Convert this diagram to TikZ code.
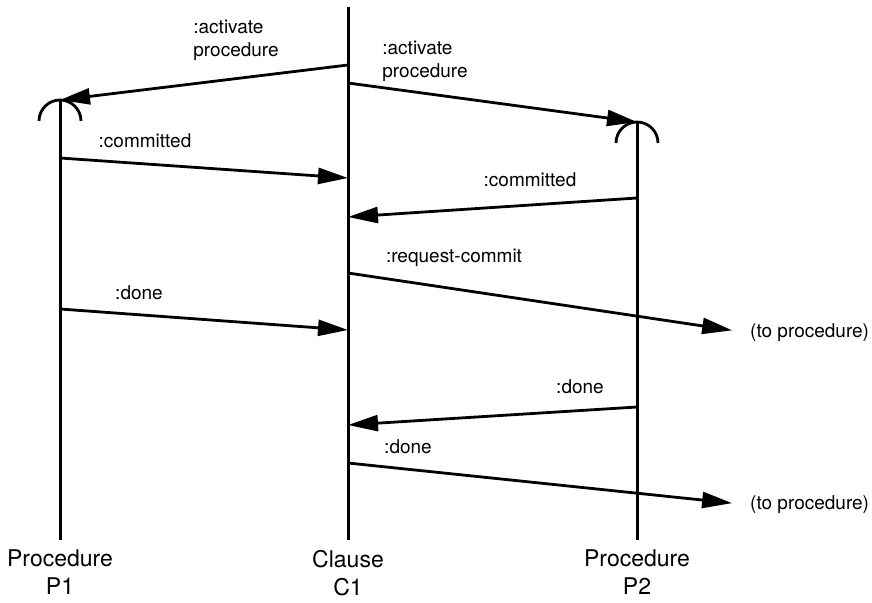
\documentclass[tikz,border=0pt]{standalone}
\usepackage{fontspec}
\setmainfont{TeX Gyre Heros}
\usetikzlibrary{arrows.meta,positioning}

\begin{document}
\begin{tikzpicture}[x=1pt,y=-1pt,
        life/.style={line width=3pt},
        msg/.style={line width=2.8pt,-{Triangle[length=30pt,width=16pt]}},
        lbl/.style={font=\fontsize{19}{23}\selectfont,align=left,inner sep=0pt},
        who/.style={font=\fontsize{23}{28}\selectfont,align=center,inner sep=0pt}]
        \useasboundingbox (0,0) rectangle (872,602);
        % lifelines
        \coordinate (p1top) at (60,100);
        \coordinate (p1bot) at (60,540);
        \coordinate (c1top) at (348,7);
        \coordinate (c1bot) at (348,540);
        \coordinate (p2top) at (637,122);
        \coordinate (p2bot) at (637,540);
        \draw[life] (p1top) -- (p1bot);
        \draw[life] (c1top) -- (c1bot);
        \draw[life] (p2top) -- (p2bot);
        \draw[line width=2.8pt] (p1top) ++(-21,21) arc[start angle=180,end angle=360,radius=21];
        \draw[line width=2.8pt] (p2top) ++(-21,21) arc[start angle=180,end angle=360,radius=21];
        \node[who] (p1name) [below=10pt of p1bot] {Procedure\\P1};
        \node[who] (c1name) [below=10pt of c1bot] {Clause\\C1};
        \node[who] (p2name) [below=10pt of p2bot] {Procedure\\P2};
        % message ends
        \coordinate (c1a) at (348,65);
        \coordinate (c1b) at (348,83);
        \coordinate (c1c) at (348,178);
        \coordinate (c1d) at (348,217);
        \coordinate (c1e) at (348,273);
        \coordinate (c1f) at (348,330);
        \coordinate (c1g) at (348,425);
        \coordinate (c1h) at (348,463);
        \coordinate (p1a) at (60,158);
        \coordinate (p1b) at (60,309);
        \coordinate (p2a) at (637,198);
        \coordinate (p2b) at (637,407);
        \node[lbl,anchor=west] (out1) at (750,333) {(to procedure)};
        \node[lbl,anchor=west] (out2) at (750,505) {(to procedure)};
        % messages
        \draw[msg] (c1a) -- (p1top);
        \draw[msg] (c1b) -- (p2top);
        \draw[msg] (p1a) -- (c1c);
        \draw[msg] (p2a) -- (c1d);
        \draw[msg,shorten >=18pt] (c1e) -- (out1.west);
        \draw[msg] (p1b) -- (c1f);
        \draw[msg] (p2b) -- (c1g);
        \draw[msg,shorten >=18pt] (c1h) -- (out2.west);
        % labels
        \node[lbl] (m1) at (236,40) {:activate\\procedure};
        \node[lbl] (m2) at (425,61) {:activate\\procedure};
        \node[lbl] (m3) at (145,141) {:committed};
        \node[lbl] (m4) at (530,180) {:committed};
        \node[lbl] (m5) at (454,258) {:request-commit};
        \node[lbl] (m6) at (139,293) {:done};
        \node[lbl] (m7) at (580,387) {:done};
        \node[lbl] (m8) at (408,447) {:done};
\end{tikzpicture}
\end{document}
